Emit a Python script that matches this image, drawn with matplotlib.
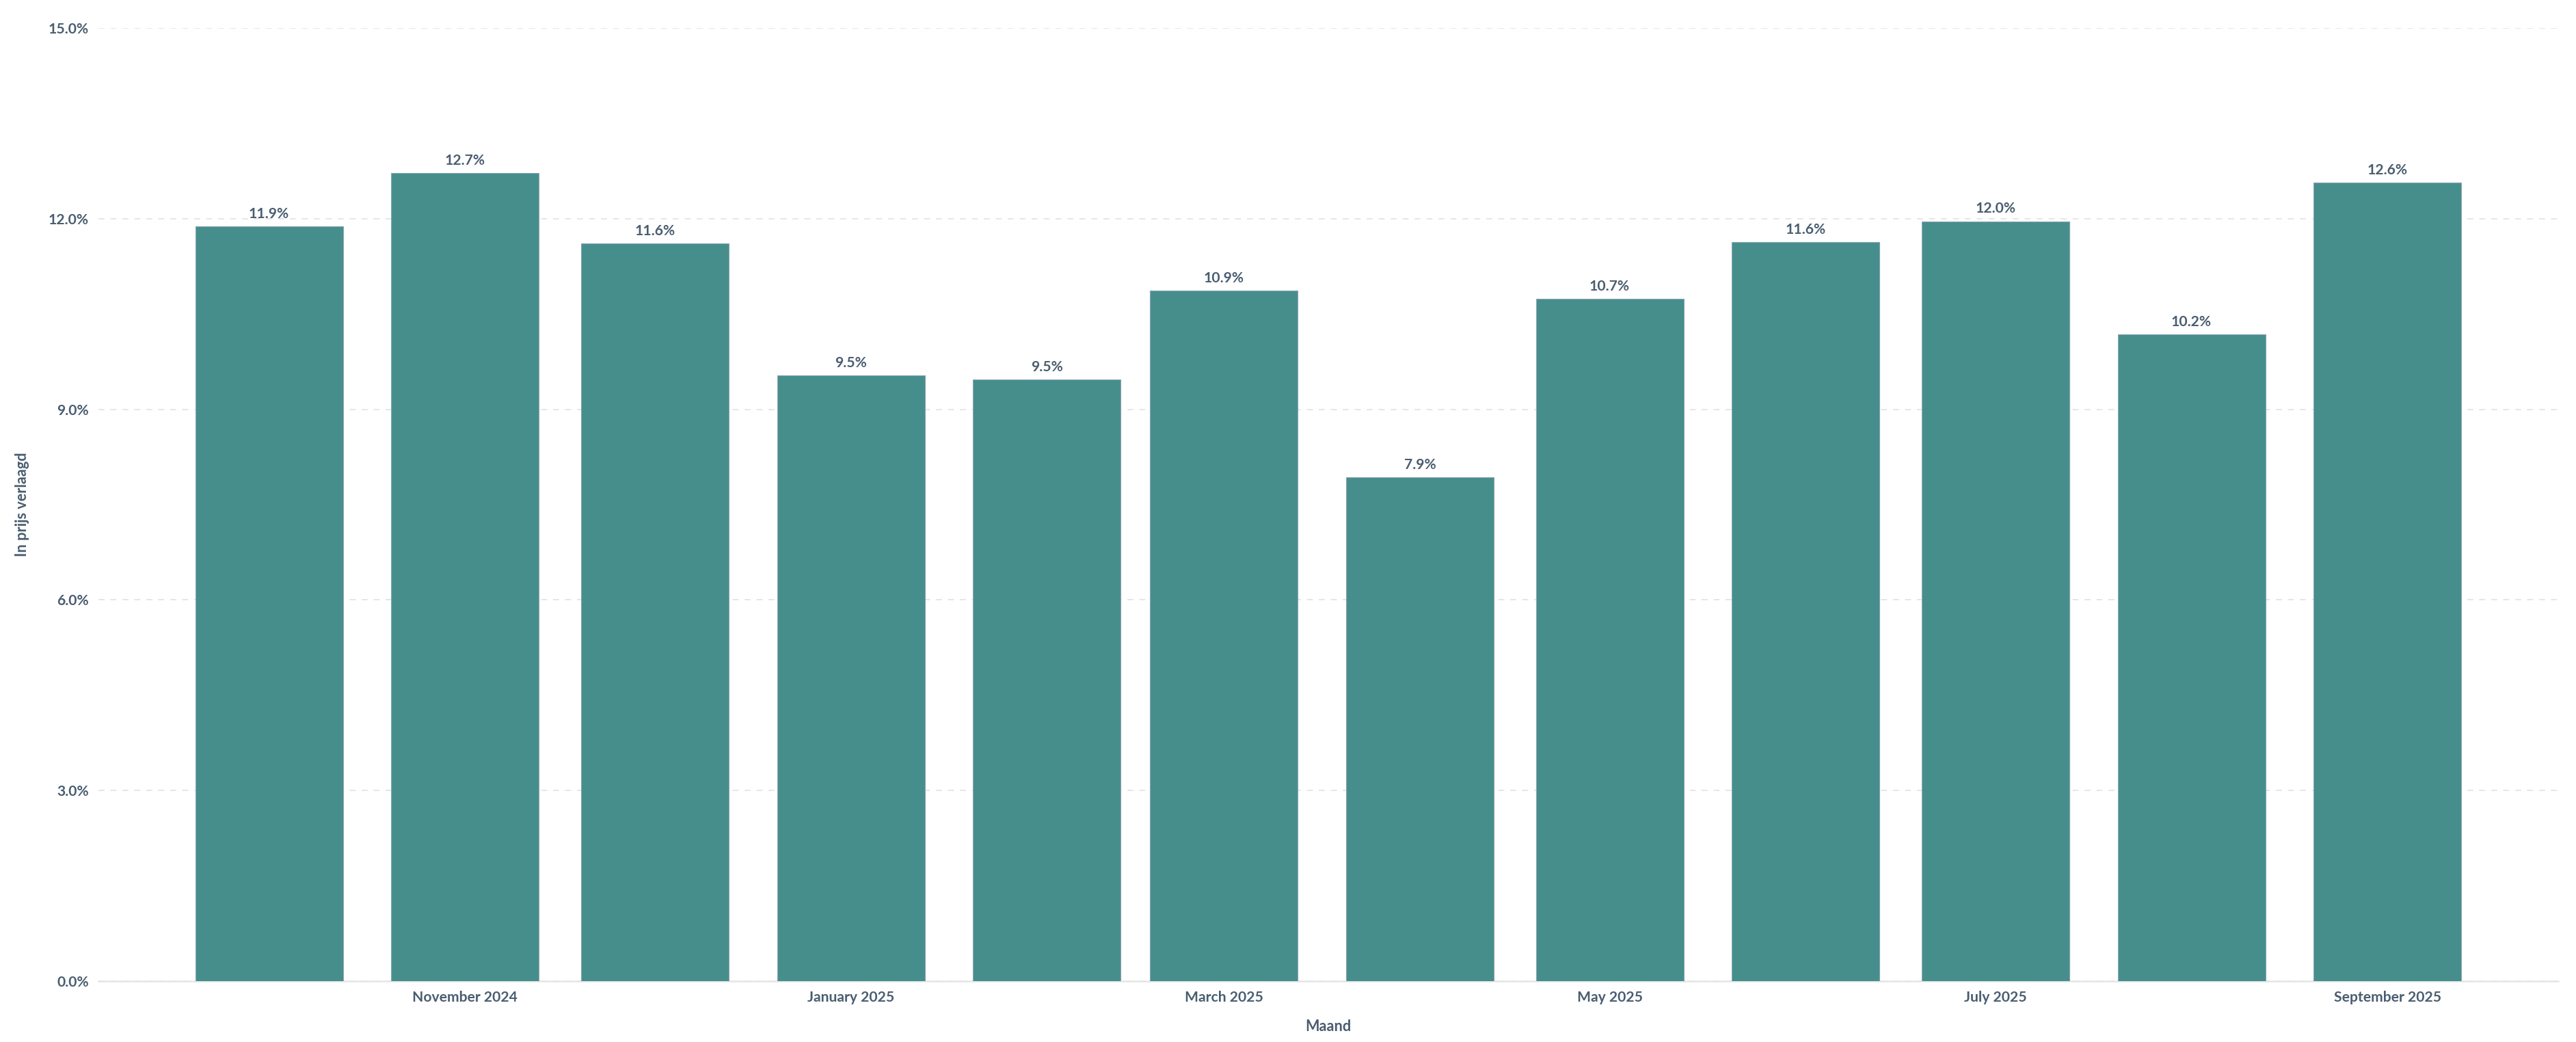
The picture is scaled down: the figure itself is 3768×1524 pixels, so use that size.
import datetime as dt
import matplotlib
matplotlib.use("Agg")
import matplotlib.pyplot as plt
import matplotlib.dates as mdates
from matplotlib.ticker import FuncFormatter

# data
months = ["2024-10", "2024-11", "2024-12", "2025-01", "2025-02", "2025-03",
          "2025-04", "2025-05", "2025-06", "2025-07", "2025-08", "2025-09"]
values = [11.88, 12.72, 11.61, 9.53, 9.47, 10.87, 7.93, 10.74, 11.63, 11.96, 10.18, 12.57]
y_ticks = [0, 3, 6, 9, 12, 15]
x_tick_months = ["2024-11", "2025-01", "2025-03", "2025-05", "2025-07", "2025-09"]

plt.rcParams['font.family'] = ['Lato', 'DejaVu Sans']

bar_color = "#468e8c"
text_color = "#4a5d70"
grid_color = "#e6e6e6"

dates = [dt.datetime.strptime(m, "%Y-%m") for m in months]
tick_dates = [dt.datetime.strptime(m, "%Y-%m") for m in x_tick_months]

fig = plt.figure(figsize=(18.84, 7.62), dpi=200)
ax = fig.add_axes([0.0382, 0.0584, 0.9549, 0.9146])

bars = ax.bar(dates, values, width=23.35, color=bar_color, edgecolor="#8aa5b5",
              linewidth=0.4, zorder=3)

for d, v in zip(dates, values):
    ax.annotate(f"{v:.1f}%", (mdates.date2num(d), v), xytext=(0, 3),
                textcoords="offset points", ha="center", va="bottom",
                fontsize=7.6, color=text_color, fontweight="bold")

ax.set_xlim(dt.datetime(2024, 9, 4), dt.datetime(2025, 9, 28))
ax.set_ylim(0, 15)

ax.set_yticks(y_ticks)
ax.yaxis.set_major_formatter(FuncFormatter(lambda v, p: f"{v:.1f}%"))
ax.set_xticks(tick_dates)
ax.set_xticklabels([d.strftime("%B %Y") for d in tick_dates])

ax.tick_params(axis="both", length=0, labelsize=7.6, labelcolor=text_color)
ax.tick_params(axis="y", pad=5)
ax.tick_params(axis="x", pad=5)
for lab in ax.get_xticklabels() + ax.get_yticklabels():
    lab.set_fontweight("bold")

ax.grid(axis="y", color=grid_color, linewidth=0.7, linestyle=(0, (4.5, 4.5)), zorder=0)
ax.grid(axis="x", visible=False)
for s in ["top", "right", "left"]:
    ax.spines[s].set_visible(False)
ax.spines["bottom"].set_color(grid_color)
ax.spines["bottom"].set_linewidth(0.9)

ax.set_xlabel("Maand", fontsize=7.8, color=text_color, fontweight="bold", labelpad=8)
ax.set_ylabel("In prijs verlaagd", fontsize=7.8, color=text_color, fontweight="bold", labelpad=10)

fig.savefig("out.png", dpi=200)
